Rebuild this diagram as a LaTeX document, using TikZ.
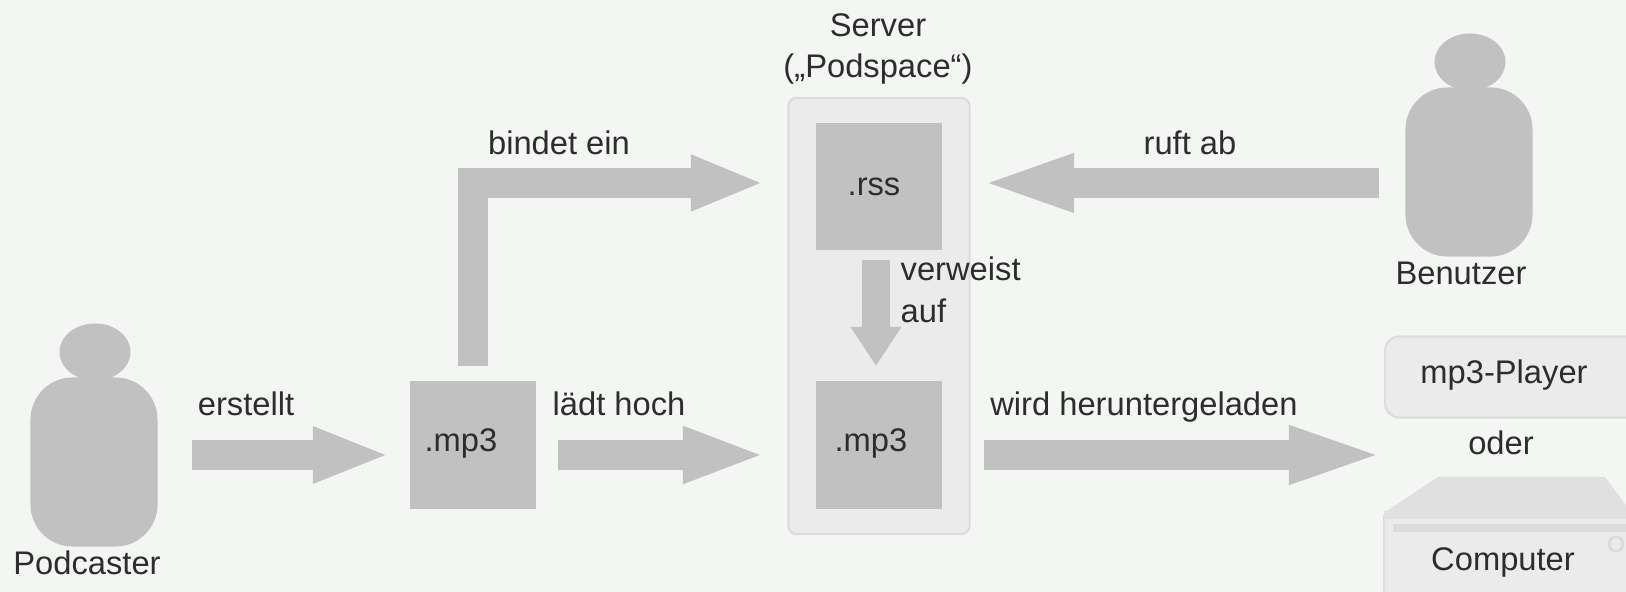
\documentclass[tikz,border=0pt]{standalone}
\usepackage{fontspec}
\setmainfont{Liberation Sans}
\usetikzlibrary{arrows.meta,shapes.geometric}
\definecolor{pgback}{RGB}{244,246,244}
\definecolor{pggray}{RGB}{193,193,193}
\definecolor{pglight}{RGB}{235,235,235}
\definecolor{pgedge}{RGB}{220,220,220}
\definecolor{pgband}{RGB}{224,224,224}
\definecolor{pgtext}{RGB}{45,45,45}
\tikzset{
  txt/.style={text=pgtext,inner sep=0pt,font=\fontsize{9.3}{11.8}\selectfont},
  graybox/.style={fill=pggray,inner sep=0pt,minimum width=1.26cm,minimum height=1.27cm},
  body/.style={fill=pggray,inner sep=0pt,rounded corners=0.42cm,minimum width=1.27cm,minimum height=1.69cm},
  head/.style={ellipse,fill=pggray,inner sep=0pt,minimum width=0.71cm,minimum height=0.57cm},
  device/.style={fill=pglight,draw=pgedge,line width=0.6pt},
  blockarrow/.style={pggray,line width=0.3cm,-{Triangle[length=#1,width=0.51cm]}},
}
\begin{document}
\begin{tikzpicture}[x=0.01cm,y=-0.01cm]
  \clip (0,0) rectangle (1626,592);
  \fill[pgback] (0,0) rectangle (1626,592);
  % server
  \node[device,rounded corners=0.08cm,minimum width=1.81cm,minimum height=4.36cm,inner sep=0pt] (server) at (879,316) {};
  \node[graybox] (rss) at (879,186.5) {};
  \node[graybox] (mpserver) at (879,445) {};
  % people
  \node[head] (podhead) at (95,352) {};
  \node[body] (podcaster) at (94,462) {};
  \node[head] (userhead) at (1470,62) {};
  \node[body] (user) at (1469,172) {};
  % local file
  \node[graybox] (mplocal) at (473,445) {};
  % devices
  \node[device,rounded corners=0.14cm,minimum width=2.6cm,minimum height=0.81cm,inner sep=0pt,anchor=west] (player) at (1384,377) {};
  \fill[pgband] (1384,513) -- (1438,477) -- (1605,477) -- (1632,513) -- cycle;
  \draw[device] (1384,516) rectangle (1640,610);
  \fill[pgband] (1384,511) rectangle (1640,519);
  \fill[pgedge] (1393,524) rectangle (1640,532);
  \node[circle,draw=pgedge,fill=pglight,line width=0.8pt,inner sep=0pt,minimum size=0.14cm] (led) at (1616,544) {};
  % arrow ends
  \coordinate (erstelltA) at (192,455);
  \coordinate (erstelltB) at (390,455);
  \coordinate (hochA) at (558,455);
  \coordinate (hochB) at (766,455);
  \coordinate (ladenA) at (984,455);
  \coordinate (ladenB) at (1387,455);
  \coordinate (bindetA) at (473,366);
  \coordinate (bindetB) at (764,183);
  \coordinate (abrufA) at (1379,183);
  \coordinate (abrufB) at (978,183);
  \coordinate (verweisA) at (876,260);
  \coordinate (verweisB) at (876,366);
  % arrows
  \draw[blockarrow=0.77cm] (erstelltA) -- (erstelltB);
  \draw[blockarrow=0.83cm] (hochA) -- (hochB);
  \draw[blockarrow=0.98cm] (ladenA) -- (ladenB);
  \draw[blockarrow=0.73cm,line join=miter] (bindetA) |- (bindetB);
  \draw[blockarrow=0.96cm] (abrufA) -- (abrufB);
  \draw[pggray,line width=0.27cm,-{Triangle[length=0.39cm,width=0.48cm]}] (verweisA) -- (verweisB);
  % labels
  \node[txt,align=center] (servertxt) at (878,49) {Server\\(„Podspace“)};
  \node[txt] (rsstxt) at (874,187) {.rss};
  \node[txt] (mpservertxt) at (871,443) {.mp3};
  \node[txt] (mplocaltxt) at (461,443) {.mp3};
  \node[txt] (bindettxt) at (559,143) {bindet ein};
  \node[txt] (abruftxt) at (1190,143) {ruft ab};
  \node[txt,align=left,anchor=west] (verweistxt) at (900,290) {verweist\\auf};
  \node[txt] (erstellttxt) at (246,404) {erstellt};
  \node[txt] (hochtxt) at (619,404) {lädt hoch};
  \node[txt] (ladentxt) at (1144,407) {wird heruntergeladen};
  \node[txt] (usertxt) at (1461,273) {Benutzer};
  \node[txt] (podtxt) at (87,563) {Podcaster};
  \node[txt] (playertxt) at (1504,375) {mp3-Player};
  \node[txt] (odertxt) at (1501,443) {oder};
  \node[txt] (computertxt) at (1503,562) {Computer};
\end{tikzpicture}
\end{document}
